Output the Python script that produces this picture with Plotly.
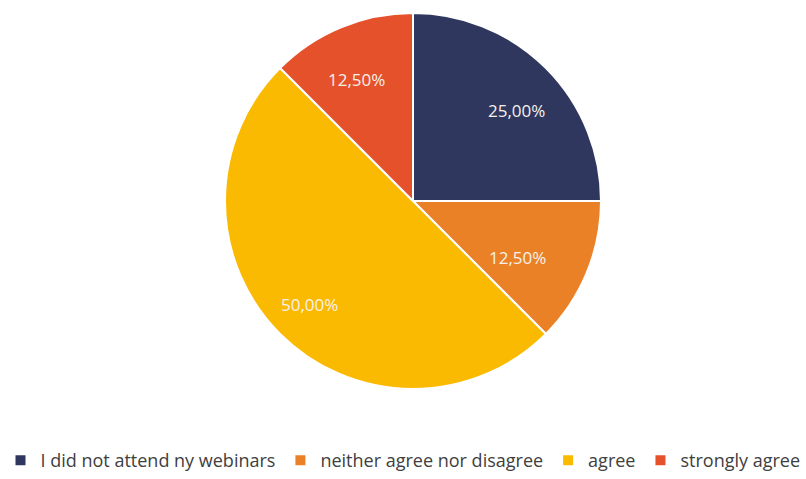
import math
import plotly.graph_objects as go

# Survey answers and their shares (percent)
labels = ["I did not attend ny webinars", "neither agree nor disagree", "agree", "strongly agree"]
shares = [25.0, 12.5, 50.0, 12.5]
colors = ["#30375F", "#EB8126", "#FBBA02", "#E5512B"]

W, H = 806, 479
cx, cy, r = 413, 201, 188  # pie centre and radius in pixels

dom_x = [(cx - r) / W, (cx + r) / W]
dom_y = [1 - (cy + r) / H, 1 - (cy - r) / H]

fig = go.Figure(go.Pie(
    labels=labels,
    values=shares,
    sort=False,
    direction="clockwise",
    rotation=0,
    marker=dict(colors=colors, line=dict(color="white", width=2)),
    textinfo="none",
    hoverinfo="label+percent",
    domain=dict(x=dom_x, y=dom_y),
))

# Percent labels placed along each slice's mid-angle
def fmt(v):
    return f"{v:.2f}".replace(".", ",") + "%"

total = sum(shares)
start = 0.0
for v in shares:
    mid = (start + v / 2) / total * 2 * math.pi
    start += v
    px = cx + 0.78 * r * math.sin(mid)
    py = cy - 0.78 * r * math.cos(mid)
    fig.add_annotation(
        x=px / W, y=1 - py / H, xref="paper", yref="paper",
        text=fmt(v), showarrow=False,
        font=dict(family="Open Sans", size=17, color="#F4F1EA"),
    )

fig.update_layout(
    width=W, height=H,
    margin=dict(l=0, r=0, t=0, b=0),
    paper_bgcolor="white",
    plot_bgcolor="white",
    showlegend=True,
    legend=dict(
        orientation="h",
        x=0.5, xanchor="center",
        y=0, yanchor="bottom",
        font=dict(family="Open Sans", size=18, color="#404040"),
        itemclick=False,
    ),
)

fig.write_html("out.html")
